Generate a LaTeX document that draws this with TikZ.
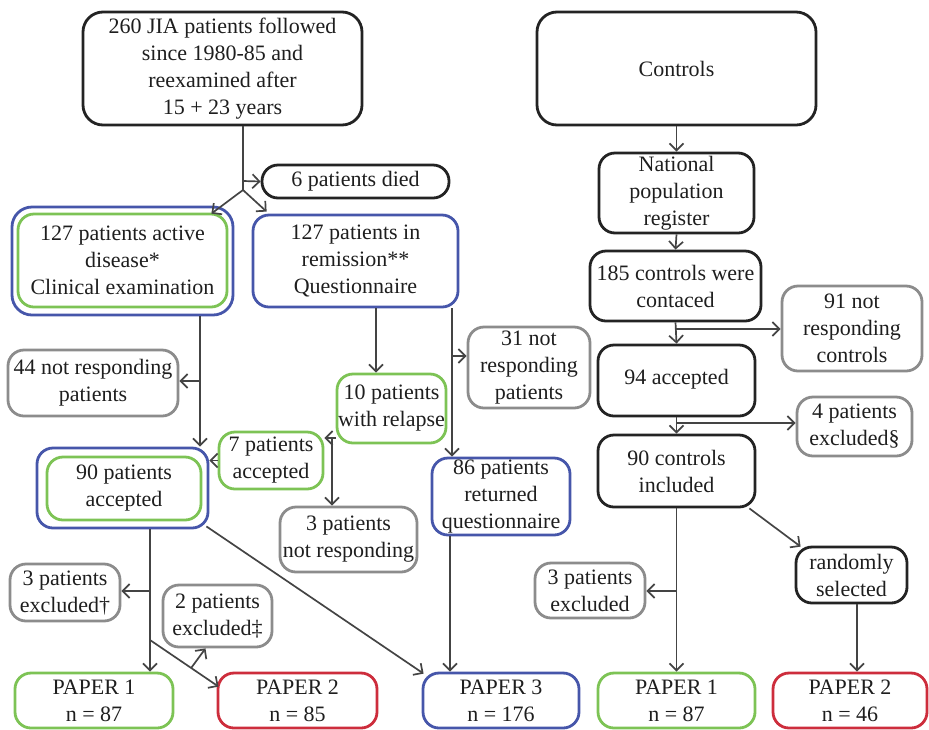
\documentclass[tikz,border=0pt]{standalone}
\usepackage{fontspec}
\setmainfont{Liberation Serif}
\usetikzlibrary{calc,positioning,arrows.meta}

\definecolor{jiablue}{RGB}{70,86,170}
\definecolor{jiagreen}{RGB}{125,195,85}
\definecolor{jiared}{RGB}{205,45,60}
\definecolor{jiagrey}{RGB}{140,140,140}
\definecolor{jiablack}{RGB}{35,35,35}
\definecolor{jiatext}{RGB}{30,30,30}

\tikzset{
  box/.style={draw, line width=1.4pt, rounded corners=8pt, align=center, inner sep=0pt,
    text=jiatext, font=\fontsize{11}{13.5}\selectfont},
  wh/.style 2 args={minimum width=#1*0.5pt, minimum height=#2*0.5pt},
  blackbox/.style={box, draw=jiablack},
  greybox/.style={box, draw=jiagrey},
  bluebox/.style={box, draw=jiablue},
  greenbox/.style={box, draw=jiagreen},
  redbox/.style={box, draw=jiared},
  flow/.style={draw=jiablack!85, line width=0.85pt},
  >={Straight Barb[length=3.5pt,width=7pt]},
}

\begin{document}
\begin{tikzpicture}[x=0.5pt,y=-0.5pt]
  \useasboundingbox (0,0) rectangle (929,729);

  % patients
  \node[blackbox, wh={279}{113}, rounded corners=10pt] (top) at (222.5,68.5)
    {260 JIA patients followed\\since 1980-85 and\\reexamined after\\15 + 23 years};
  \node[blackbox, wh={187}{33}] (died) at (355.5,181.5) {6 patients died};
  \node[bluebox, wh={221}{108}, rounded corners=10pt] (activeo) at (122.5,261) {};
  \node[greenbox, wh={209}{93}] (active) at (122.5,260.5)
    {127 patients active\\disease*\\Clinical examination};
  \node[bluebox, wh={205}{92}] (remission) at (355.5,261)
    {127 patients in\\remission**\\Questionnaire};
  \node[greybox, wh={170}{66}] (not44) at (93,383) {44 not responding\\patients};
  \node[greybox, wh={122}{81}] (not31) at (529,367.5) {31 not\\responding\\patients};
  \node[greenbox, wh={109}{69}] (relapse) at (391.5,408.5) {10 patients\\with relapse};
  \node[greenbox, wh={104}{57}] (acc7) at (271,460.5) {7 patients\\accepted};
  \node[bluebox, wh={171}{80}] (acc90o) at (122.5,488) {};
  \node[greenbox, wh={154}{63}] (acc90) at (124,488.5) {90 patients\\accepted};
  \node[greybox, wh={137}{65}] (notresp3) at (348.5,539.5) {3 patients\\not responding};
  \node[bluebox, wh={138}{77}] (ret86) at (501,496.5) {86 patients\\returned\\questionnaire};
  \node[greybox, wh={110}{57}] (excl3dag) at (65,592.5) {3 patients\\excluded\textdagger};
  \node[greybox, wh={109}{62}] (excl2) at (217.5,616) {2 patients\\excluded\textdaggerdbl};

  % controls
  \node[blackbox, wh={279}{113}, rounded corners=10pt] (controls) at (676.5,68.5) {Controls};
  \node[blackbox, wh={155}{80}] (national) at (676.5,193) {National\\population\\register};
  \node[blackbox, wh={171}{70}] (contacted) at (675.5,286) {185 controls were\\contaced};
  \node[greybox, wh={140}{85}] (not91) at (852,328.5) {91 not\\responding\\controls};
  \node[blackbox, wh={157}{71}] (acc94) at (676.5,380.5) {\raisebox{4pt}{94 accepted}};
  \node[greybox, wh={115}{59}] (excl4) at (854.5,426.5) {4 patients\\excluded\S};
  \node[blackbox, wh={157}{72}] (ctrl90) at (676.5,471) {90 controls\\included};
  \node[greybox, wh={110}{55}] (excl3R) at (590,590.5) {3 patients\\excluded};
  \node[blackbox, wh={111}{56}] (random) at (851.5,575) {randomly\\selected};

  % papers
  \node[greenbox, wh={158}{55}] (p1L) at (94,700.5) {PAPER 1\\n = 87};
  \node[redbox, wh={159}{55}] (p2L) at (297.5,700.5) {PAPER 2\\n = 85};
  \node[bluebox, wh={156}{55}] (p3) at (501,700.5) {PAPER 3\\n = 176};
  \node[greenbox, wh={157}{55}] (p1R) at (676.5,700.5) {PAPER 1\\n = 87};
  \node[redbox, wh={154}{55}] (p2R) at (850,700.5) {PAPER 2\\n = 46};

  % junctions
  \coordinate (split) at (243,190);
  \coordinate (diedj) at (243,181);
  \coordinate (j44) at (200,381);
  \coordinate (xrel) at (376,0);
  \coordinate (j31) at (452,356);
  \coordinate (j7) at (332,438);
  \coordinate (jd) at (150,591);
  \coordinate (jp2) at (150,640);
  \coordinate (ep2) at ($(p2L.north west)+(2,15)$);
  \coordinate (x86) at (450,0);
  \coordinate (j91) at (675.5,329);
  \coordinate (j4) at (676.5,423);
  \coordinate (j3R) at (676.5,591);
  \coordinate (x2R) at (857,0);

  % patient arrows
  \draw[flow] (top.south -| split) -- (split); %down from top box
  \draw[flow,->] (diedj) -- (died.west);
  \draw[flow,->] (split) -- ($(activeo.north east)+(-23,8)$);
  \draw[flow,->] (split) -- ($(remission.north west)+(15,-2)$);
  \draw[flow,->] (activeo.south -| j44) -- (acc90o.north -| j44);
  \draw[flow,->] (j44) -- (not44.east |- j44);
  \draw[flow,->] (remission.south -| xrel) -- (relapse.north -| xrel);
  \draw[flow,->] (remission.south -| j31) -- (ret86.north -| j31);
  \draw[flow,->] (j31) -- (not31.west |- j31);
  \draw[flow,->] (relapse.west |- j7) -- (acc7.east |- j7);
  \draw[flow,->] (j7) -- (notresp3.north -| j7);
  \draw[flow,->] (acc7.west) -- (acc90o.east |- acc7.west);
  \draw[flow,->] (acc90o.south -| jd) -- (p1L.north -| jd);
  \draw[flow,->] (jd) -- (excl3dag.east |- jd);
  \draw[flow,->] (jp2) -- (ep2);
  \draw[flow,->] ($(jp2)!0.6!(ep2)$) -- ($(excl2.south)+(-12,0)$);
  \draw[flow,->] ($(acc90o.south east)+(-3,-3)$) -- ($(p3.north west)+(2,2)$);
  \draw[flow,->] (ret86.south -| x86) -- (p3.north -| x86);

  % control arrows
  \draw[flow,->] (controls.south) -- (national.north);
  \draw[flow,->] (national.south) -- (contacted.north);
  \draw[flow,->] (contacted.south) -- (acc94.north);
  \draw[flow,->] (j91) -- (not91.west |- j91);
  \draw[flow,->] (acc94.south) -- (ctrl90.north);
  \draw[flow,->] (j4) -- (excl4.west |- j4);
  \draw[flow,->] (ctrl90.south) -- (p1R.north);
  \draw[flow,->] (j3R) -- (excl3R.east |- j3R);
  \draw[flow,->] ($(ctrl90.south east)+(-7,0)$) -- ($(random.north west)+(6,1)$);
  \draw[flow,->] (random.south -| x2R) -- (p2R.north -| x2R);
\end{tikzpicture}
\end{document}
